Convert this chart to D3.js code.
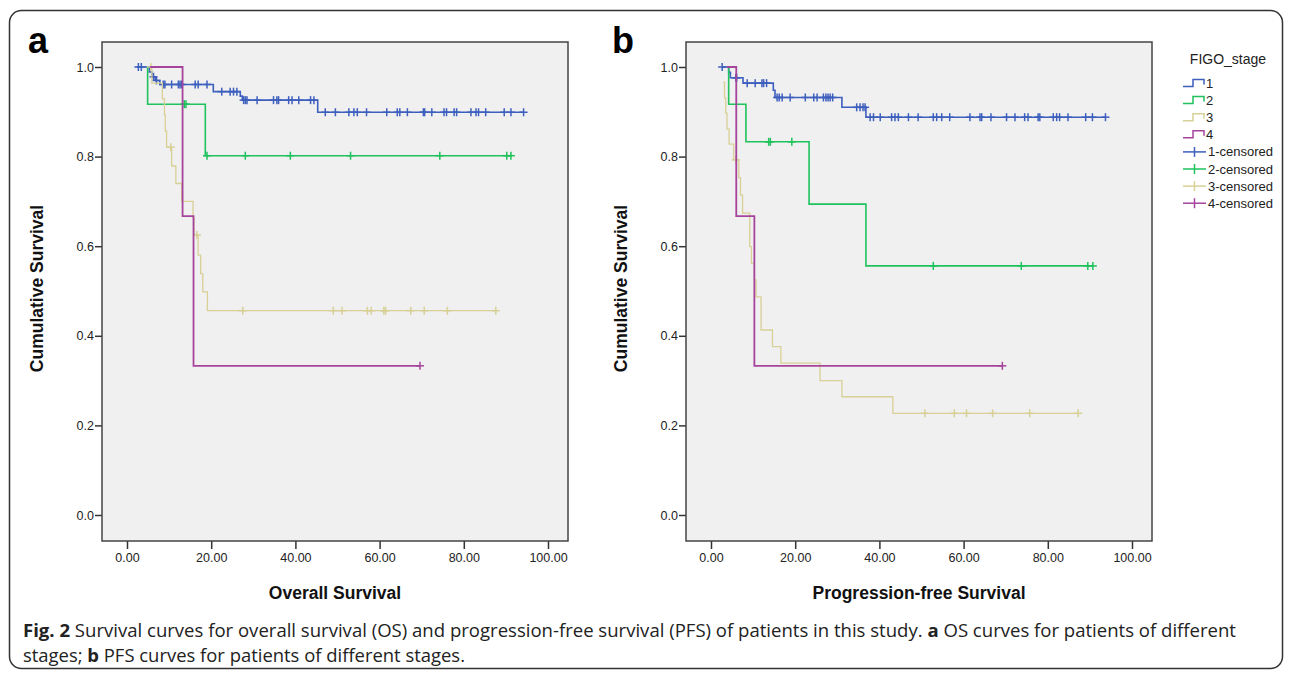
<!DOCTYPE html>
<html><head><meta charset="utf-8">
<script src="https://cdn.jsdelivr.net/npm/d3@7"></script>
<style>
body{margin:0;background:#fff;}
svg{display:block;font-family:"Liberation Sans",Arial,sans-serif;}
</style></head><body>
<svg id="chart" width="1292" height="674"></svg>
<script>
// ---------- DATA ----------
const stageLabels = ["1", "2", "3", "4"];
const stageColors = ["#3d5fbd", "#1fc25c", "#d8d096", "#a6449c"];
const yTickValues = [0, 0.2, 0.4, 0.6, 0.8, 1.0];
const xTickValues = [0, 20, 40, 60, 80, 100];

// Panel a: Overall Survival (step start times, survival level from that time, censor times)
const osTimes1 = [2.3, 5.3, 5.9, 6.7, 7.8, 20.5, 26.9, 27.4, 45.3];
const osSurv1  = [1.0, 0.989, 0.978, 0.970, 0.961, 0.945, 0.935, 0.926, 0.899];
const osCens1  = [2.7, 3.4, 6.3, 7.0, 8.6, 9.0, 10.6, 12.2, 12.6, 13.0, 16.2, 16.9, 19.0, 22.5, 24.5, 25.3, 26.1, 27.7, 28.1, 28.5, 30.9, 34.8, 35.6, 36.0, 38.4, 39.2, 40.8, 43.6, 44.4, 47.1, 49.5, 52.7, 53.9, 54.7, 56.9, 61.7, 64.2, 64.8, 66.6, 70.4, 70.7, 72.4, 75.3, 75.9, 77.7, 78.3, 81.7, 82.9, 83.5, 85.2, 89.6, 91.2, 94.2];
const osTimes2 = [4.9, 4.9, 18.6];
const osSurv2  = [1.0, 0.917, 0.802];
const osCens2  = [13.6, 14.0, 19.0, 28.1, 38.8, 53.1, 74.3, 90.2, 91.2];
const osTimes3 = [5.6, 5.9, 8.4, 8.9, 9.1, 9.4, 10.6, 11.6, 13.0, 15.7, 15.9, 16.9, 17.5, 18.0, 19.1];
const osSurv3  = [1.0, 0.964, 0.929, 0.893, 0.857, 0.821, 0.779, 0.740, 0.700, 0.662, 0.625, 0.580, 0.539, 0.498, 0.456];
const osCens3  = [5.7, 10.4, 16.6, 27.5, 49.0, 51.1, 57.1, 58.0, 61.0, 61.4, 67.4, 70.6, 76.1, 87.6];
const osTimes4 = [5.5, 13.2, 15.8];
const osSurv4  = [1.0, 0.667, 0.333];
const osCens4  = [69.6];

// Panel b: Progression-free Survival
const pfsTimes1 = [2.65, 4.2, 4.6, 7.6, 14.8, 15.2, 31.1, 36.8];
const pfsSurv1  = [1.0, 0.988, 0.976, 0.964, 0.948, 0.932, 0.910, 0.888];
const pfsCens1  = [2.65, 5.9, 6.1, 8.6, 10.5, 12.1, 12.5, 13.2, 15.7, 16.2, 16.9, 18.8, 22.4, 24.4, 25.2, 26.7, 27.3, 27.8, 28.3, 28.9, 34.6, 35.4, 36.1, 36.6, 37.8, 38.6, 40.2, 42.9, 43.7, 44.5, 46.9, 49.2, 52.8, 53.6, 54.8, 56.7, 61.5, 63.9, 64.3, 66.5, 70.2, 72.2, 74.5, 75.3, 77.7, 78.1, 81.3, 82.1, 82.8, 84.8, 89.0, 90.6, 93.7];
const pfsTimes2 = [4.2, 4.2, 8.3, 23.3, 36.8];
const pfsSurv2  = [1.0, 0.917, 0.833, 0.694, 0.556];
const pfsCens2  = [13.7, 14.1, 19.2, 52.8, 73.7, 89.5, 90.7];
const pfsTimes3 = [2.9, 3.2, 3.5, 3.8, 4.3, 5.4, 6.6, 7.0, 7.5, 9.2, 9.6, 10.3, 10.7, 11.9, 14.6, 16.6, 25.9, 31.1, 43.2];
const pfsSurv3  = [0.966, 0.931, 0.897, 0.862, 0.828, 0.793, 0.753, 0.714, 0.674, 0.599, 0.562, 0.525, 0.487, 0.413, 0.376, 0.339, 0.300, 0.264, 0.227];
const pfsCens3  = [5.9, 50.8, 57.8, 60.7, 66.9, 75.7, 87.2];
const pfsTimes4 = [3.8, 6.0, 10.3];
const pfsSurv4  = [1.0, 0.667, 0.333];
const pfsCens4  = [69.2];

const osSeries = [
  {times: osTimes1, surv: osSurv1, cens: osCens1},
  {times: osTimes2, surv: osSurv2, cens: osCens2},
  {times: osTimes3, surv: osSurv3, cens: osCens3},
  {times: osTimes4, surv: osSurv4, cens: osCens4}
];
const pfsSeries = [
  {times: pfsTimes1, surv: pfsSurv1, cens: pfsCens1},
  {times: pfsTimes2, surv: pfsSurv2, cens: pfsCens2},
  {times: pfsTimes3, surv: pfsSurv3, cens: pfsCens3},
  {times: pfsTimes4, surv: pfsSurv4, cens: pfsCens4}
];

// ---------- DRAW ----------
const svg = d3.select("#chart");

svg.append("rect").attr("x", 9.5).attr("y", 10.5).attr("width", 1273).attr("height", 658)
  .attr("rx", 12).attr("fill", "none").attr("stroke", "#333").attr("stroke-width", 1.5);

const strokeW = [1.6, 1.6, 1.3, 1.8];

function panel(left, letter, xTitle, series) {
  const top = 42, W = 466, H = 499;
  const x = d3.scaleLinear().domain([-25 / 4.21, (W - 25) / 4.21]).range([left, left + W]);
  const y = d3.scaleLinear().domain([-26 / 448, 1 + 25 / 448]).range([top + H, top]);
  const g = svg.append("g");

  g.append("rect").attr("x", left).attr("y", top).attr("width", W).attr("height", H).attr("fill", "#f0f0f0");

  const ya = g.append("g").attr("transform", `translate(${left},0)`)
    .call(d3.axisLeft(y).tickValues(yTickValues).tickFormat(d3.format(".1f")).tickSize(7).tickPadding(1));
  ya.select(".domain").remove();
  const xa = g.append("g").attr("transform", `translate(0,${top + H})`)
    .call(d3.axisBottom(x).tickValues(xTickValues).tickFormat(d3.format(".2f")).tickSize(8).tickPadding(4));
  xa.select(".domain").remove();
  [ya, xa].forEach(a => {
    a.selectAll("line").attr("stroke", "#333").attr("stroke-width", 1.5);
    a.selectAll("text").attr("fill", "#222").style("font-size", "12.5px").style("font-family", '"Liberation Sans",Arial,sans-serif');
  });

  const line = d3.line().x(d => x(d[0])).y(d => y(d[1])).curve(d3.curveStepAfter);

  series.forEach((s, i) => {
    const last = s.surv[s.surv.length - 1];
    const end = Math.max(d3.max(s.cens), s.times[s.times.length - 1]);
    const pts = s.times.map((t, j) => [t, s.surv[j]]).concat([[end, last]]);
    g.append("path").attr("d", line(pts)).attr("fill", "none")
      .attr("stroke", stageColors[i]).attr("stroke-width", strokeW[i]);
    const cg = g.append("g").attr("stroke", stageColors[i]).attr("stroke-width", 1.5);
    s.cens.forEach(t => {
      const k = Math.max(0, d3.bisectRight(s.times, t) - 1);
      const cx = x(t), cy = y(s.surv[k]);
      cg.append("line").attr("x1", cx).attr("x2", cx).attr("y1", cy - 4).attr("y2", cy + 4);
      cg.append("line").attr("x1", cx - 4).attr("x2", cx + 4).attr("y1", cy).attr("y2", cy);
    });
  });

  g.append("rect").attr("x", left).attr("y", top).attr("width", W).attr("height", H)
    .attr("fill", "none").attr("stroke", "#444").attr("stroke-width", 1.5);

  g.append("text").attr("x", left + W / 2).attr("y", 599).attr("text-anchor", "middle")
    .attr("font-weight", "bold").attr("font-size", 17.5).attr("fill", "#111").text(xTitle);
  g.append("text").attr("transform", `translate(${left - 59},${top + H / 2 - 3}) rotate(-90)`)
    .attr("text-anchor", "middle").attr("font-weight", "bold").attr("font-size", 17.5).attr("fill", "#111")
    .text("Cumulative Survival");
  g.append("text").attr("x", left - 74).attr("y", 53).attr("font-weight", "bold").attr("font-size", 36)
    .attr("fill", "#000").text(letter);
}

panel(102, "a", "Overall Survival", osSeries);
panel(686, "b", "Progression-free Survival", pfsSeries);

// Legend
const lg = svg.append("g");
lg.append("text").attr("x", 1228).attr("y", 64).attr("text-anchor", "middle").attr("font-size", 14)
  .attr("fill", "#222").text("FIGO_stage");
const rowY = i => 83.5 + i * 17.1;
stageLabels.forEach((lab, i) => {
  const yy = rowY(i);
  lg.append("path").attr("d", `M1183,${yy + 3}H1193V${yy - 4}H1204V${yy + 1}`)
    .attr("fill", "none").attr("stroke", stageColors[i]).attr("stroke-width", 1.5);
  lg.append("text").attr("x", 1206).attr("y", yy + 4.5).attr("font-size", 13).attr("fill", "#222").text(lab);
});
stageLabels.forEach((lab, i) => {
  const yy = rowY(i + 4);
  lg.append("line").attr("x1", 1183).attr("x2", 1206).attr("y1", yy).attr("y2", yy)
    .attr("stroke", stageColors[i]).attr("stroke-width", 1.5);
  lg.append("line").attr("x1", 1194.5).attr("x2", 1194.5).attr("y1", yy - 5).attr("y2", yy + 5)
    .attr("stroke", stageColors[i]).attr("stroke-width", 1.5);
  lg.append("text").attr("x", 1208).attr("y", yy + 4.5).attr("font-size", 13).attr("fill", "#222").text(lab + "-censored");
});

// Caption
const cap = svg.append("g").style("font-family", '"Liberation Sans Narrow","Open Sans",sans-serif').attr("fill", "#222");
const t1 = cap.append("text").attr("x", 23).attr("y", 637).attr("font-size", 18)
  .attr("textLength", 1213).attr("lengthAdjust", "spacingAndGlyphs");
t1.append("tspan").attr("font-weight", "bold").text("Fig. 2");
t1.append("tspan").text(" Survival curves for overall survival (OS) and progression-free survival (PFS) of patients in this study. ");
t1.append("tspan").attr("font-weight", "bold").text("a");
t1.append("tspan").text(" OS curves for patients of different");
const t2 = cap.append("text").attr("x", 23).attr("y", 662).attr("font-size", 18)
  .attr("textLength", 442).attr("lengthAdjust", "spacingAndGlyphs");
t2.append("tspan").text("stages; ");
t2.append("tspan").attr("font-weight", "bold").text("b");
t2.append("tspan").text(" PFS curves for patients of different stages.");
</script>
</body></html>
